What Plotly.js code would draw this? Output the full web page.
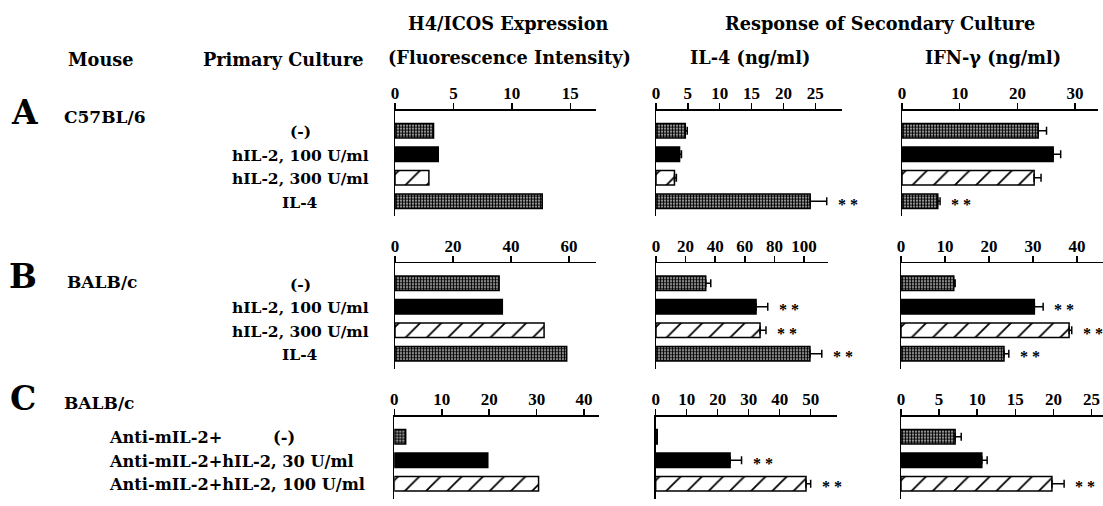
<!DOCTYPE html>
<html>
<head>
<meta charset="utf-8">
<script src="https://cdn.plot.ly/plotly-3.0.1.min.js"></script>
<style>html,body{margin:0;padding:0;background:#fff;}#chart{width:1103px;height:506px;}</style>
</head>
<body>
<div id="chart"></div>
<script>
// ---------- data ----------
var catsAB = ["(-)", "hIL-2, 100 U/ml", "hIL-2, 300 U/ml", "IL-4"];
var catsC = ["Anti-mIL-2+ (-)", "Anti-mIL-2+hIL-2, 30 U/ml", "Anti-mIL-2+hIL-2, 100 U/ml"];

var A_icos = [3.3, 3.7, 2.9, 12.6];
var A_il4 = [4.6, 3.7, 2.9, 24.2];
var A_il4_err = [0.3, 0.3, 0.3, 2.6];
var A_ifn = [23.6, 26.2, 22.9, 6.2];
var A_ifn_err = [1.45, 1.3, 1.2, 0.4];
var A_il4_sig = [0, 0, 0, 1];
var A_ifn_sig = [0, 0, 0, 1];

var B_icos = [35.9, 37.0, 51.4, 59.2];
var B_il4 = [33.6, 67.6, 70.3, 104];
var B_il4_err = [3.4, 7.9, 4.0, 8.0];
var B_ifn = [12.0, 30.3, 38.2, 23.4];
var B_ifn_err = [0.3, 2.0, 0.6, 1.1];
var B_il4_sig = [0, 1, 1, 1];
var B_ifn_sig = [0, 1, 1, 1];

var C_icos = [2.4, 19.7, 30.4];
var C_il4 = [0.5, 24.0, 48.5];
var C_il4_err = [0, 3.7, 1.5];
var C_ifn = [7.1, 10.6, 19.8];
var C_ifn_err = [0.8, 0.7, 1.6];
var C_il4_sig = [0, 1, 1];
var C_ifn_sig = [0, 0, 1];

var tickStepsA = [5, 5, 10];
var tickStepsB = [20, 20, 10];
var tickStepsC = [10, 10, 5];

// fill style of each condition (by row position)
var fillAB = ["dots", "solid", "hatch", "dots"];
var fillC = ["dots", "solid", "hatch"];

// ---------- layout helpers ----------
var W = 1103, H = 506;
var FONT = "DejaVu Serif, serif";
var TFONT = "Liberation Serif, serif";
var BAND = 23.5, TOPB = 0.85, BOTB = 0.65;

var STYLES = {
  dots: {color: "#fff", pattern: {shape: ".", fgcolor: "#000", bgcolor: "#fff", size: 3, solidity: 0.7}},
  solid: {color: "#000"},
  hatch: {color: "#fff", pattern: {shape: "/", fgcolor: "#000", bgcolor: "#fff", size: 15, solidity: 0.12}}
};

var rows = [
  {cats: catsAB, fill: fillAB, top: 110.7, series: [
    {v: A_icos, e: null, s: null},
    {v: A_il4, e: A_il4_err, s: A_il4_sig},
    {v: A_ifn, e: A_ifn_err, s: A_ifn_sig}], steps: tickStepsA,
   xd: [[395, 596], [656, 841.7], [902, 1098]], rng: [17.2, 29.15, 33.97]},
  {cats: catsAB, fill: fillAB, top: 263.3, series: [
    {v: B_icos, e: null, s: null},
    {v: B_il4, e: B_il4_err, s: B_il4_sig},
    {v: B_ifn, e: B_ifn_err, s: B_ifn_sig}], steps: tickStepsB,
   xd: [[395, 596], [656, 828.3], [901, 1103]], rng: [69.3, 116.4, 45.9]},
  {cats: catsC, fill: fillC, top: 416.7, series: [
    {v: C_icos, e: null, s: null},
    {v: C_il4, e: C_il4_err, s: C_il4_sig},
    {v: C_ifn, e: C_ifn_err, s: C_ifn_sig}], steps: tickStepsC,
   xd: [[394.3, 599.3], [655.7, 836.7], [901, 1103]], rng: [43.2, 58.4, 26.5]}
];

var traces = [];
var layout = {
  width: W, height: H, autosize: false,
  margin: {l: 0, r: 0, t: 0, b: 0},
  paper_bgcolor: "#fff", plot_bgcolor: "rgba(0,0,0,0)",
  showlegend: false, bargap: 0.38, barmode: "overlay",
  font: {family: FONT, color: "#000", size: 16, weight: "bold"},
  annotations: []
};

var idx = 0;
rows.forEach(function (row, r) {
  var n = row.cats.length;
  var bottom = row.top + BAND * (TOPB + (n - 1) + BOTB);
  row.series.forEach(function (ser, c) {
    idx++;
    var xa = idx === 1 ? "xaxis" : "xaxis" + idx;
    var ya = idx === 1 ? "yaxis" : "yaxis" + idx;
    var xr = idx === 1 ? "x" : "x" + idx;
    var yr = idx === 1 ? "y" : "y" + idx;
    ["dots", "solid", "hatch"].forEach(function (kind) {
      var ii = [];
      row.fill.forEach(function (f, i) { if (f === kind) ii.push(i); });
      if (!ii.length) return;
      var st = STYLES[kind];
      var marker = {color: st.color, line: {color: "#000", width: 1.5}};
      if (st.pattern) marker.pattern = st.pattern;
      var tr = {
        type: "bar", orientation: "h", opacity: 1,
        x: ii.map(function (i) { return ser.v[i]; }),
        y: ii.map(function (i) { return row.cats[i]; }),
        xaxis: xr, yaxis: yr, hoverinfo: "none", marker: marker
      };
      if (ser.e) {
        tr.error_x = {type: "data", symmetric: false,
          array: ii.map(function (i) { return ser.e[i]; }),
          arrayminus: ii.map(function () { return 0; }),
          color: "#000", thickness: 1.5, width: 4};
      }
      traces.push(tr);
    });
    layout[xa] = {
      domain: [row.xd[c][0] / W, row.xd[c][1] / W], anchor: yr, side: "top",
      range: [0, row.rng[c]], dtick: row.steps[c], tick0: 0,
      showline: true, linecolor: "#000", linewidth: 1.5,
      ticks: "outside", ticklen: 6, tickwidth: 1.5, tickcolor: "#000",
      ticklabelstandoff: -3,
      showgrid: false, zeroline: false, fixedrange: true,
      tickfont: {family: TFONT, size: 17, color: "#000", weight: "bold"}
    };
    layout[ya] = {
      domain: [1 - bottom / H, 1 - row.top / H], anchor: xr, type: "category",
      categoryarray: row.cats, range: [n - 1 + BOTB, -TOPB],
      showline: true, linecolor: "#000", linewidth: 1.5,
      showticklabels: false, ticks: "", showgrid: false, zeroline: false, fixedrange: true
    };
    if (ser.s) {
      ser.s.forEach(function (flag, i) {
        if (flag) {
          layout.annotations.push({
            xref: xr, yref: yr, x: ser.v[i] + (ser.e ? ser.e[i] : 0), y: row.cats[i],
            xshift: 21, yshift: -3, xanchor: "center", yanchor: "middle", showarrow: false,
            text: "* *", font: {family: TFONT, size: 16, color: "#000", weight: "bold"}
          });
        }
      });
    }
    if (c === 0) {
      row.cats.forEach(function (cat, i) {
        var isC = n === 3;
        var txt = cat;
        if (isC && cat === "Anti-mIL-2+ (-)") txt = "Anti-mIL-2+" + "\u00a0".repeat(9) + "(-)";
        layout.annotations.push({
          xref: "paper", yref: yr, x: isC ? 107 / W : 300 / W, y: cat, yshift: -1,
          xanchor: isC ? "left" : "center", yanchor: "middle", showarrow: false,
          text: txt, font: {family: FONT, size: isC ? 16.2 : 15.5, color: "#000", weight: "bold"}
        });
      });
    }
  });
});

function pAnn(text, px, py, size, anchor) {
  layout.annotations.push({
    xref: "paper", yref: "paper", x: px / W, y: 1 - py / H, xanchor: anchor || "center", yanchor: "middle",
    showarrow: false, text: text, font: {family: FONT, size: size, color: "#000", weight: "bold"}
  });
}
pAnn("H4/ICOS Expression", 508, 24, 17.7);
pAnn("(Fluorescence Intensity)", 509, 57, 17.7);
pAnn("Response of Secondary Culture", 880, 24, 17.7);
pAnn("IL-4 (ng/ml)", 750, 57, 17.7);
pAnn("IFN-\u03b3 (ng/ml)", 993, 57, 17.7);
pAnn("Mouse", 100, 60, 17.7);
pAnn("Primary Culture", 283, 60, 17.7);
pAnn("A", 24, 112, 33);
pAnn("B", 23, 276, 33);
pAnn("C", 23, 398, 33);
pAnn("C57BL/6", 62, 117, 17, "left");
pAnn("BALB/c", 65, 282, 17, "left");
pAnn("BALB/c", 62, 403, 17, "left");

Plotly.newPlot("chart", traces, layout, {staticPlot: true, displayModeBar: false});
</script>
</body>
</html>
